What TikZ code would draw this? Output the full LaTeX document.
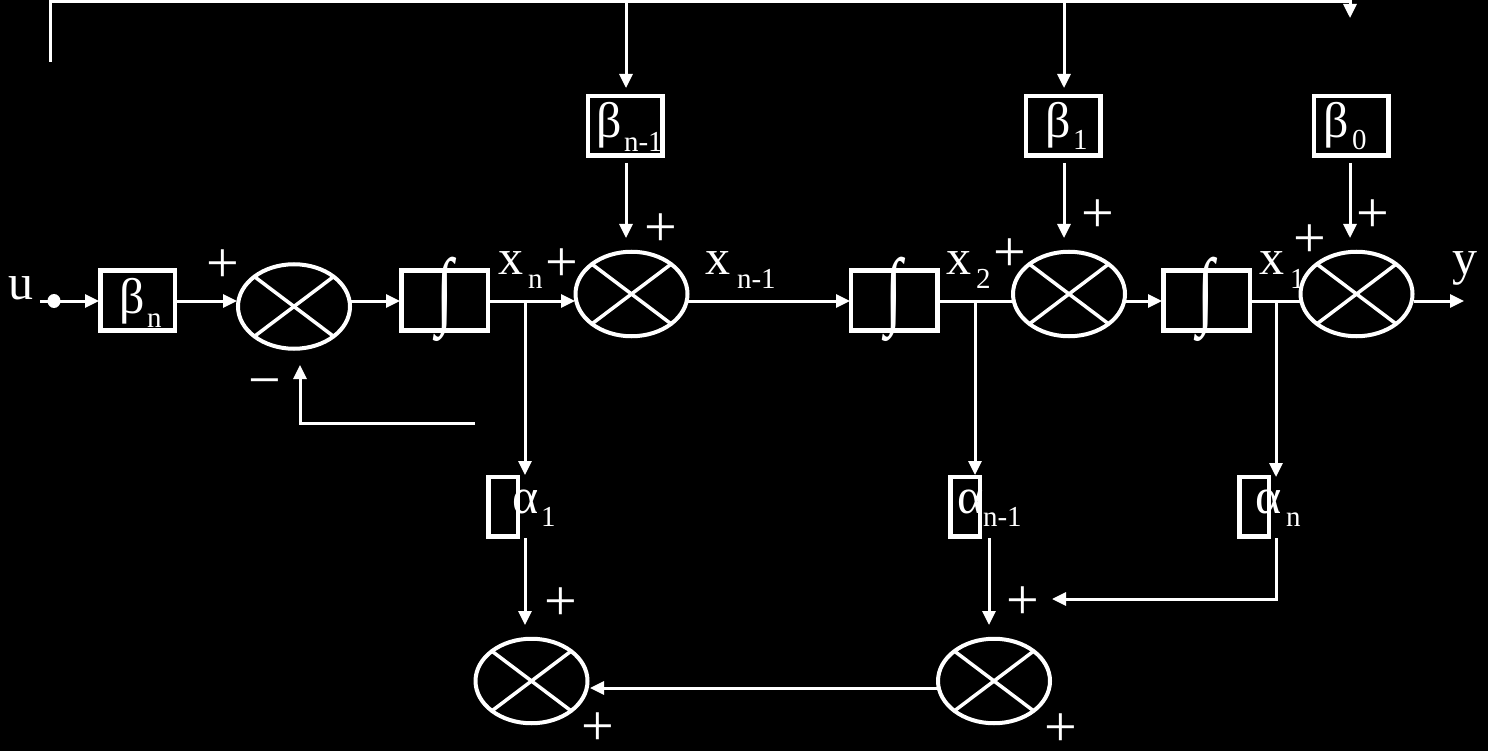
\documentclass[tikz,border=0pt]{standalone}
\usepackage{fontspec}
\setmainfont{Liberation Serif}
\usetikzlibrary{arrows.meta,shapes.geometric}
\newcommand{\bigt}{\fontsize{50}{50}\selectfont}
\newcommand{\subt}{\fontsize{29}{29}\selectfont}
\tikzset{
 wire/.style={draw=white,line width=3pt},
 cross/.style={draw=white,line width=3.5pt},
 arr/.style={wire,-{Triangle[width=13pt,length=14pt]}},
 box/.style={draw=white,line width=4.5pt,rectangle,inner sep=0pt,outer sep=0pt},
 summer/.style={draw=white,line width=4pt,ellipse,minimum width=112pt,minimum height=84.5pt,inner sep=0pt,outer sep=0pt},
 txt/.style={text=white,inner sep=0pt,outer sep=0pt,anchor=base west,font=\bigt},
 subs/.style={text=white,inner sep=0pt,outer sep=0pt,anchor=base west,font=\subt},
 sign/.style={text=white,inner sep=0pt,outer sep=0pt,anchor=center,font=\fontsize{58}{58}\selectfont},
 integ/.style={text=white,inner sep=0pt,outer sep=0pt,anchor=center,xscale=.72,font=\fontsize{86}{86}\selectfont},
}
\newcommand{\summer}[3]{\node[summer] (#1) at (#2,#3) {};
 \draw[cross] (#1.north west) -- (#1.south east);
 \draw[cross] (#1.north east) -- (#1.south west);}
\begin{document}
\begin{tikzpicture}[x=1pt,y=-1pt]
\fill[black] (0,0) rectangle (1488,751);
\useasboundingbox (0,0) rectangle (1488,751);
% summers
\summer{s1}{294}{306.5}
\summer{s2}{631.5}{294}
\summer{s3}{1069}{294}
\summer{s4}{1356.5}{294}
\summer{s5}{531.5}{681}
\summer{s6}{994}{681}
% boxes
\node[box,minimum width=74.5pt,minimum height=59.5pt] (bn) at (137.5,300.5) {};
\node[box,minimum width=74.5pt,minimum height=59.5pt] (bn1) at (625,126) {};
\node[box,minimum width=74.5pt,minimum height=59.5pt] (b1) at (1063,126) {};
\node[box,minimum width=74.5pt,minimum height=59.5pt] (b0) at (1351,126) {};
\node[box,minimum width=86.5pt,minimum height=59.5pt] (i1) at (444.5,300.5) {};
\node[box,minimum width=86.5pt,minimum height=59.5pt] (i2) at (894,300.5) {};
\node[box,minimum width=86.5pt,minimum height=59.5pt] (i3) at (1206.5,300.5) {};
\node[box,minimum width=29.5pt,minimum height=59.5pt] (a1) at (503,506.5) {};
\node[box,minimum width=29.5pt,minimum height=59.5pt] (an1) at (965,506.5) {};
\node[box,minimum width=29.5pt,minimum height=59.5pt] (an) at (1254,506.5) {};
% free coordinates and junctions
\coordinate (uin) at (40,301);
\coordinate (ubox) at (99,301);
\fill[white] (54,301) ellipse (6.5pt and 7pt);
\coordinate (tl) at (50,62);
\coordinate (tc) at (50,2);
\coordinate (tr) at (1350,2);
\coordinate (tre) at (1350,18);
\coordinate (d1) at (626,2);
\coordinate (d1e) at (626,88);
\coordinate (d2) at (1064,2);
\coordinate (d2e) at (1064,88);
\coordinate (f1) at (475,423);
\coordinate (f2) at (300,423);
\coordinate (f3) at (300,365);
\coordinate (j1) at (525,301);
\coordinate (j2) at (975,301);
\coordinate (j3) at (1276,301);
% connectors
\draw[arr] (uin) -- (ubox);
\draw[arr] (176,301) -- (237,301);
\draw[arr] (351,301) -- (400,301);
\draw[arr] (490,301) -- (575,301);
\draw[arr] (688,301) -- (850,301);
\draw[wire] (938,301) -- (1012,301);
\draw[arr] (1126,301) -- (1162,301);
\draw[wire] (1250,301) -- (1300,301);
\draw[arr] (1414,301) -- (1464,301);
\draw[arr] (tl) -- (tc) -- (tr) -- (tre);
\draw[arr] (d1) -- (d1e);
\draw[arr] (d2) -- (d2e);
\draw[arr] (626,163) -- (626,238);
\draw[arr] (1064,163) -- (1064,238);
\draw[arr] (1350,163) -- (1350,238);
\draw[arr] (f1) -- (f2) -- (f3);
\draw[arr] (j1) -- (525,475);
\draw[arr] (j2) -- (975,475);
\draw[arr] (j3) -- (1276,477);
\draw[arr] (525,538) -- (525,625);
\draw[arr] (989,538) -- (989,625);
\draw[arr] (1276,538) -- (1276,599) -- (1052,599);
\draw[arr] (937,688) -- (590,688);
% integrals
\node[integ] (n1) at (445,299) {∫};
\node[integ] (n2) at (894,299) {∫};
\node[integ] (n3) at (1206,299) {∫};
% labels
\node[txt] (lu) at (9,299) {u};
\node[txt] (ly) at (1452,275) {y};
\node[txt] (lb1) at (119,313) {β};
\node[subs] (lb1s) at (147,327) {n};
\node[txt] (lb2) at (596,138) {β};
\node[subs] (lb2s) at (624,152) {n-1};
\node[txt] (lb3) at (1045,138) {β};
\node[subs] (lb3s) at (1073,150) {1};
\node[txt] (lb4) at (1323,138) {β};
\node[subs] (lb4s) at (1352,150) {0};
\node[txt] (lx1) at (498,275) {x};
\node[subs] (lx1s) at (528,289) {n};
\node[txt] (lx2) at (705,275) {x};
\node[subs] (lx2s) at (737,289) {n-1};
\node[txt] (lx3) at (946,275) {x};
\node[subs] (lx3s) at (976,289) {2};
\node[txt] (lx4) at (1259,275) {x};
\node[subs] (lx4s) at (1290,289) {1};
\node[txt] (la1) at (512,513) {α};
\node[subs] (la1s) at (541,526) {1};
\node[txt] (la2) at (957,513) {α};
\node[subs] (la2s) at (983,526) {n-1};
\node[txt] (la3) at (1255,513) {α};
\node[subs] (la3s) at (1286,526) {n};
% signs
\node[sign] (p1) at (223,266) {+};
\node[sign] (p2) at (562,265) {+};
\node[sign] (p3) at (661,230) {+};
\node[sign] (p4) at (1098,216) {+};
\node[sign] (p5) at (1010,255) {+};
\node[sign] (p6) at (1373,216) {+};
\node[sign] (p7) at (1310,241) {+};
\node[sign] (p8) at (561,604) {+};
\node[sign] (p9) at (1023,603) {+};
\node[sign] (p10) at (598,729) {+};
\node[sign] (p11) at (1061,730) {+};
\node[sign] (m1) at (265,389) {−};
\end{tikzpicture}
\end{document}
